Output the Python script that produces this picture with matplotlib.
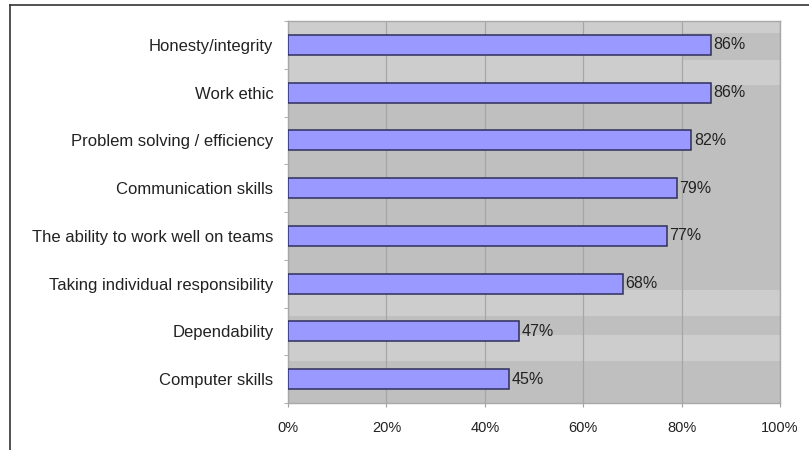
import matplotlib.pyplot as plt
import matplotlib.lines as mlines
import numpy as np

# Datos
cualidades = ["Honesty/integrity", "Work ethic", "Problem solving / efficiency",
              "Communication skills", "The ability to work well on teams",
              "Taking individual responsibility", "Dependability", "Computer skills"]
porcentajes = [86, 86, 82, 79, 77, 68, 47, 45]
ticks_x = [0, 20, 40, 60, 80, 100]

plt.rcParams['font.family'] = ['Liberation Sans', 'DejaVu Sans']

fig = plt.figure(figsize=(8.09, 4.5), dpi=100)
ax = fig.add_axes([288 / 809, 1 - 403 / 450, (780 - 288) / 809, (403 - 21) / 450])

# Fondo gris con bandas claras
ax.set_facecolor("#bfbfbf")
claro = "#cdcdcd"
ax.axhspan(-0.5, -0.25, color=claro, zorder=0, lw=0)
ax.axhspan(-0.25, 0.32, xmin=0, xmax=0.8, color=claro, zorder=0, lw=0)
ax.axhspan(0.32, 0.84, color=claro, zorder=0, lw=0)
ax.axhspan(5.13, 5.68, color=claro, zorder=0, lw=0)
ax.axhspan(6.08, 6.63, color=claro, zorder=0, lw=0)

y = np.arange(len(cualidades))
ax.barh(y, porcentajes, height=0.42, color="#9999ff", edgecolor="#2f2f5f",
        linewidth=1.1, zorder=3)

for yi, v in zip(y, porcentajes):
    ax.text(v + 0.5, yi, f"{v}%", va="center", ha="left", fontsize=11.5,
            color="#222222", zorder=4)

ax.set_xlim(0, 100)
ax.set_ylim(len(cualidades) - 0.5, -0.5)
ax.set_xticks(ticks_x)
ax.set_xticklabels([f"{t}%" for t in ticks_x], fontsize=10.5, color="#222222")
ax.set_yticks(y)
ax.set_yticklabels(cualidades, fontsize=12, color="#222222")
ax.set_yticks(np.arange(-0.5, len(cualidades), 1), minor=True)
ax.tick_params(axis="y", which="major", length=0, pad=10.5)
ax.tick_params(axis="y", which="minor", length=3, color="#a0a0a0")
ax.tick_params(axis="x", length=3, color="#a0a0a0", pad=10)

ax.grid(True, axis="x", color="#a6a6a6", linewidth=0.9, zorder=1)
ax.set_axisbelow(True)
for s in ax.spines.values():
    s.set_color("#a8a8a8")
    s.set_linewidth(1)

# Marco exterior (solo arriba e izquierda visibles)
fig.add_artist(mlines.Line2D([10 / 809, 1], [1 - 5 / 450, 1 - 5 / 450],
                             color="#333333", linewidth=1.2))
fig.add_artist(mlines.Line2D([10 / 809, 10 / 809], [0, 1 - 5 / 450],
                             color="#333333", linewidth=1.2))

fig.savefig("out.png", dpi=100)
